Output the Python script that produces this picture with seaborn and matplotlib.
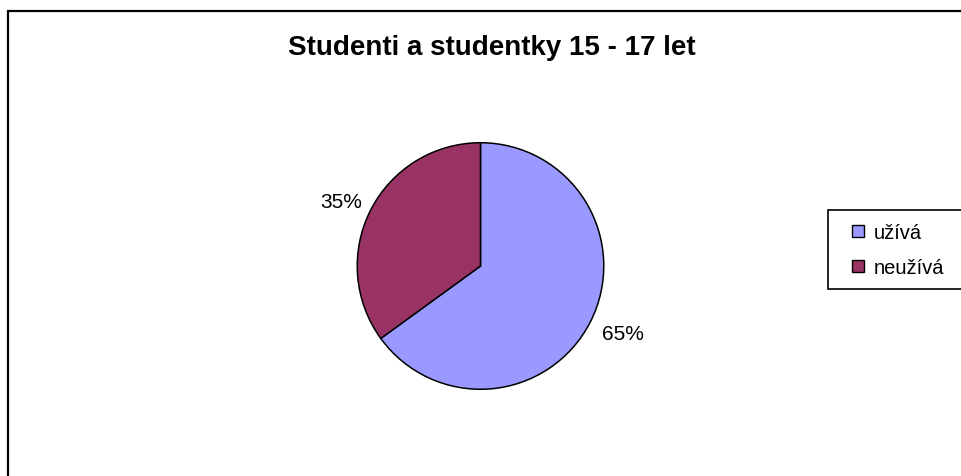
import matplotlib
matplotlib.use("Agg")
import numpy as np
import matplotlib.pyplot as plt
from matplotlib.lines import Line2D
from matplotlib.patches import Rectangle
import seaborn as sns

TITLE = 'Studenti a studentky 15 - 17 let'
CATEGORIES = ['užívá', 'neužívá']
SHARES = [65, 35]
COLORS = ['#9999FF', '#993366']

sns.set_theme(style='white')
plt.rcParams['font.family'] = ['Liberation Sans', 'DejaVu Sans']
plt.rcParams['text.color'] = 'black'
plt.rcParams['legend.labelcolor'] = 'black'

W, H = 961, 477
fig = plt.figure(figsize=(W / 100, H / 100), dpi=100)
fig.patch.set_facecolor('white')

# chart-area border (cut by right and bottom edge, as in the source)
fig.patches.append(Rectangle((7.5 / W, -0.2), 1.2, 1.2 - 11.5 / H,
                             transform=fig.transFigure, fill=False,
                             edgecolor='black', linewidth=1.6))

cx, cy, r = 480.5, 267, 124.5
ax = fig.add_axes([(cx - r) / W, (H - cy - r) / H, 2 * r / W, 2 * r / H])
wedges, _, pcts = ax.pie(SHARES, colors=COLORS, startangle=90, counterclock=False,
                         autopct='%d%%', pctdistance=1.26, radius=1,
                         wedgeprops={'edgecolor': 'black', 'linewidth': 1.1},
                         textprops={'fontsize': 15, 'color': 'black'})
# excel puts the labels a bit flatter than the wedge midpoint
for w, t in zip(wedges, pcts):
    mid = np.deg2rad((w.theta1 + w.theta2) / 2)
    t.set_position((1.26 * np.cos(mid) * 1.015 + 0.012,
                    1.26 * np.sin(mid) * 0.94 - 0.012))
ax.set_xlim(-1.01, 1.01)
ax.set_ylim(-1.01, 1.01)
ax.set_aspect('equal')
ax.axis('off')

fig.text(491.5 / W, 1 - 55 / H, TITLE, ha='center', va='baseline',
         fontsize=20, fontweight='bold', color='black')

handles = [Line2D([], [], marker='s', linestyle='', markersize=8.6,
                  markerfacecolor=c, markeredgecolor='black',
                  markeredgewidth=1.0) for c in COLORS]
leg = fig.legend(handles, CATEGORIES, loc='upper left',
                 bbox_to_anchor=(828 / W, 1 - 211 / H - 78 / H, 0.3, 78 / H),
                 mode='expand', borderaxespad=0, fontsize=14.5,
                 frameon=True, fancybox=False, shadow=False,
                 handlelength=1.74, handletextpad=-0.12, borderpad=0.63,
                 labelspacing=0.8)
for t in leg.get_texts():
    t.set_color('black')
frame = leg.get_frame()
frame.set_edgecolor('black')
frame.set_linewidth(1.2)
frame.set_facecolor('white')
frame.set_alpha(1)

fig.savefig('out.png', dpi=100)
